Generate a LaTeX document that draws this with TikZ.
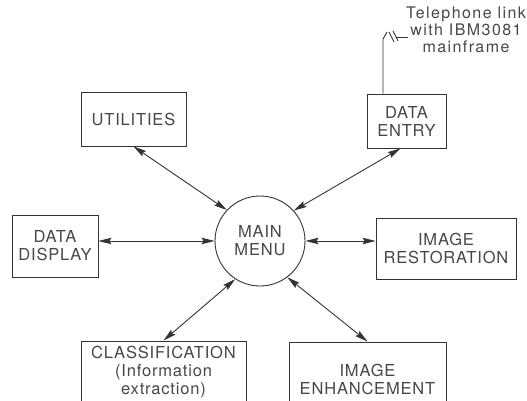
\documentclass[tikz,border=0pt]{standalone}
\usepackage{fontspec}
\setmainfont{TeX Gyre Heros}
\usetikzlibrary{arrows.meta, positioning}
\definecolor{lineGray}{gray}{0.2}
\definecolor{textGray}{gray}{0.28}
\newcommand{\labelfont}{\fontsize{16.5}{18}\selectfont\addfontfeatures{LetterSpace=5}}

\begin{document}
\begin{tikzpicture}[x=1pt, y=-1pt, >={Stealth[length=13pt, width=6.5pt, inset=2pt]},
    box/.style={draw=lineGray, line width=0.9pt, text=textGray, align=center, inner sep=0pt, font=\labelfont},
    link/.style={<->, lineGray, line width=0.9pt}]
    \useasboundingbox (0,0) rectangle (527,400);
    \clip (0,0) rectangle (527,400);

    % menu in the middle
    \node[box, circle, minimum size=90pt] (menu) at (260,241) {MAIN\\MENU};

    % the six modules
    \node[box, minimum width=105pt, minimum height=54pt] (util) at (133.5,119) {UTILITIES};
    \node[box, minimum width=79pt, minimum height=54pt] (entry) at (406.5,121) {DATA\\ENTRY};
    \node[box, minimum width=86pt, minimum height=62pt] (display) at (55,246) {DATA\\DISPLAY};
    \node[box, minimum width=140pt, minimum height=61pt] (restor) at (446,248.5) {IMAGE\\RESTORATION};
    \node[box, minimum width=165pt, minimum height=62pt] (classif) at (163.5,372) {CLASSIFICATION\\(Information\\extraction)};
    \node[box, minimum width=157pt, minimum height=74pt] (enhance) at (367.5,379) {IMAGE\\ENHANCEMENT};

    \draw[link] (util.south) -- (menu.137);
    \draw[link] ([xshift=-6pt]entry.south) -- (menu.42);
    \draw[link] (display.east |- menu.west) -- (menu.west);
    \draw[link] (menu.east) -- (menu.east -| restor.west);
    \draw[link] (classif.north) -- (menu.237);
    \draw[link] (enhance.north) -- (menu.307);

    % telephone link
    \node[text=textGray, align=center, inner sep=0pt, anchor=north,
        font=\fontsize{16}{17}\selectfont\addfontfeatures{LetterSpace=9}] (tel) at (466,7)
        {Telephone link\\with IBM3081\\mainframe};
    \coordinate (bend) at (383,39);
    \coordinate (wire end) at (408,37);
    \draw[lineGray, line width=0.9pt] ([xshift=-23.5pt]entry.north) -- (bend) -- ++(4,-7);
    \draw[lineGray, line width=0.9pt] (389,32) -- ++(5,10) (393,31) -- ++(5,10);
    \draw[lineGray, line width=0.9pt] (396,37) -- (wire end);
\end{tikzpicture}
\end{document}
